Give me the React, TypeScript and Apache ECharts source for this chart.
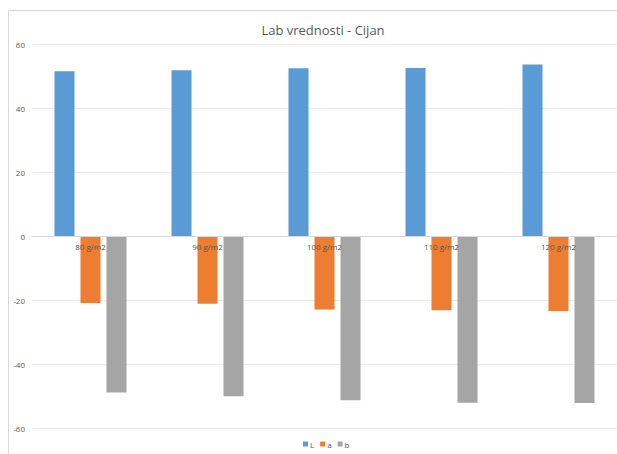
import React, { useEffect, useRef } from "react";
import * as echarts from "echarts";

const categories = ["80 g/m2", "90 g/m2", "100 g/m2", "110 g/m2", "120 g/m2"];
const seriesL = [51.5, 51.8, 52.4, 52.5, 53.6];
const seriesA = [-20.9, -21.2, -23.0, -23.2, -23.4];
const seriesB = [-48.9, -50.1, -51.3, -52.1, -52.2];
const yTicks = { min: -60, max: 60, interval: 20 };

export default function App() {
  const ref = useRef<HTMLDivElement>(null);
  useEffect(() => {
    const chart = echarts.init(ref.current!, undefined, { renderer: "svg" });
    const font = "'Open Sans', 'Liberation Sans', sans-serif";
    const gridTop = 44;
    const gridBottom = 26;
    const plotH = 454 - gridTop - gridBottom;
    const zeroOffset = -plotH * (0 - yTicks.min) / (yTicks.max - yTicks.min);
    chart.setOption({
      animation: false,
      backgroundColor: "#ffffff",
      textStyle: { fontFamily: font },
      title: {
        text: "Lab vrednosti - Cijan",
        left: 318,
        top: 18,
        textAlign: "center",
        textStyle: { fontSize: 13, fontWeight: "normal", color: "#595959", fontFamily: font },
      },
      graphic: [
        {
          type: "rect",
          shape: { x: 8.5, y: 10.5, width: 640, height: 470 },
          style: { fill: "none", stroke: "#D9D9D9", lineWidth: 1 },
          silent: true,
          z: -1,
        },
      ],
      legend: {
        bottom: 1,
        left: 298,
        itemWidth: 5,
        itemHeight: 5,
        itemGap: 6,
        icon: "rect",
        textStyle: { fontSize: 8, color: "#595959", padding: [0, 0, 0, -3] },
        data: ["L", "a", "b"],
      },
      grid: { left: 32, right: -2, top: gridTop, bottom: gridBottom, containLabel: false },
      xAxis: {
        type: "category",
        data: categories,
        z: 10,
        position: "bottom",
        offset: zeroOffset,
        axisLine: { onZero: false, lineStyle: { color: "#D9D9D9" } },
        axisTick: { show: false },
        axisLabel: { fontSize: 8, color: "#595959", margin: 6 },
        splitLine: { show: false },
      },
      yAxis: {
        type: "value",
        min: yTicks.min,
        max: yTicks.max,
        interval: yTicks.interval,
        axisLine: { show: false },
        axisTick: { show: false },
        axisLabel: { fontSize: 8, color: "#595959", margin: 7 },
        splitLine: { lineStyle: { color: "#EAEAEA", width: 1 } },
      },
      series: [
        { name: "L", type: "bar", data: seriesL, barWidth: 20, barGap: "30%", itemStyle: { color: "#5B9BD5" } },
        { name: "a", type: "bar", data: seriesA, barWidth: 20, barGap: "30%", itemStyle: { color: "#ED7D31" } },
        { name: "b", type: "bar", data: seriesB, barWidth: 20, barGap: "30%", itemStyle: { color: "#A5A5A5" } },
      ],
    });
    return () => chart.dispose();
  }, []);
  return (
    <div
      ref={ref}
      style={{ position: "absolute", left: 0, top: 0, width: 617, height: 454 }}
    />
  );
}
